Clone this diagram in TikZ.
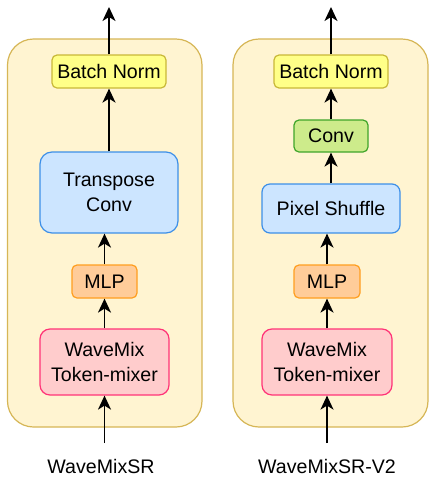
\documentclass[tikz,border=0pt]{standalone}
\usepackage{fontspec}
\setmainfont{Liberation Sans}
\usetikzlibrary{arrows.meta}
\definecolor{contfill}{HTML}{FFF4D1}
\definecolor{contline}{HTML}{D6B656}
\definecolor{bnfill}{HTML}{FFFF88}
\definecolor{bnline}{HTML}{C8B838}
\definecolor{bluefill}{HTML}{CCE5FF}
\definecolor{blueline}{HTML}{3D8FE8}
\definecolor{orfill}{HTML}{FFCC99}
\definecolor{orline}{HTML}{FF9E1F}
\definecolor{pkfill}{HTML}{FFCCCC}
\definecolor{pkline}{HTML}{FF3377}
\definecolor{grfill}{HTML}{CDEB8B}
\definecolor{grline}{HTML}{3FA52A}
\tikzset{
  blockbox/.style={draw, line width=1.2pt, inner sep=0pt, align=center,
    font=\fontsize{19.6}{24.5}\selectfont},
  contbox/.style={draw=contline, fill=contfill, line width=1.2pt, rounded corners=26pt},
  flow/.style={-{Stealth[length=14pt,width=13pt,inset=4pt]}, line width=1.7pt},
  caption/.style={anchor=base, inner sep=0pt, font=\fontsize{19.6}{24}\selectfont},
}
\begin{document}
\begin{tikzpicture}[x=1pt,y=-1pt]
\useasboundingbox (0,0) rectangle (429,480);
% containers
\draw[contbox] (7.5,39) rectangle (202,427);
\draw[contbox] (233,39) rectangle (428,427);
% left column
\node[blockbox, draw=bnline, fill=bnfill, rounded corners=5pt, minimum width=114pt, minimum height=33pt] (bn1) at (109,71.5) {Batch Norm};
\node[blockbox, draw=blueline, fill=bluefill, rounded corners=12pt, minimum width=138pt, minimum height=81pt] (tc) at (109,192.5) {Transpose\\Conv};
\node[blockbox, draw=orline, fill=orfill, rounded corners=5pt, minimum width=65pt, minimum height=33pt] (mlp1) at (104.5,281.5) {MLP};
\node[blockbox, draw=pkline, fill=pkfill, rounded corners=10pt, minimum width=129pt, minimum height=66pt] (wm1) at (104.5,362) {WaveMix\\Token-mixer};
\coordinate (top1) at (109,7);
\coordinate (in1) at (104.5,443);
\node[caption] (lab1) at (101,473) {WaveMixSR};
\draw[flow] (in1) -- (wm1.south);
\draw[flow] (wm1.north) -- (mlp1.south);
\draw[flow] (mlp1.north) -- (mlp1.north |- tc.south);
\draw[flow] (tc.north) -- (bn1.south);
\draw[flow] (bn1.north) -- (top1);
% right column
\node[blockbox, draw=bnline, fill=bnfill, rounded corners=5pt, minimum width=114pt, minimum height=33pt] (bn2) at (331,71.5) {Batch Norm};
\node[blockbox, draw=grline, fill=grfill, rounded corners=5pt, minimum width=74pt, minimum height=32pt] (conv) at (331,136) {Conv};
\node[blockbox, draw=blueline, fill=bluefill, rounded corners=8pt, minimum width=138pt, minimum height=49pt] (ps) at (331,208.5) {Pixel Shuffle};
\node[blockbox, draw=orline, fill=orfill, rounded corners=5pt, minimum width=66pt, minimum height=33pt] (mlp2) at (327,281.5) {MLP};
\node[blockbox, draw=pkline, fill=pkfill, rounded corners=10pt, minimum width=130pt, minimum height=66pt] (wm2) at (327,362) {WaveMix\\Token-mixer};
\coordinate (top2) at (331,7);
\coordinate (in2) at (327,443);
\node[caption] (lab2) at (327,473) {WaveMixSR-V2};
\draw[flow] (in2) -- (wm2.south);
\draw[flow] (wm2.north) -- (mlp2.south);
\draw[flow] (mlp2.north) -- (mlp2.north |- ps.south);
\draw[flow] (ps.north) -- (conv.south);
\draw[flow] (conv.north) -- (bn2.south);
\draw[flow] (bn2.north) -- (top2);
\end{tikzpicture}
\end{document}
